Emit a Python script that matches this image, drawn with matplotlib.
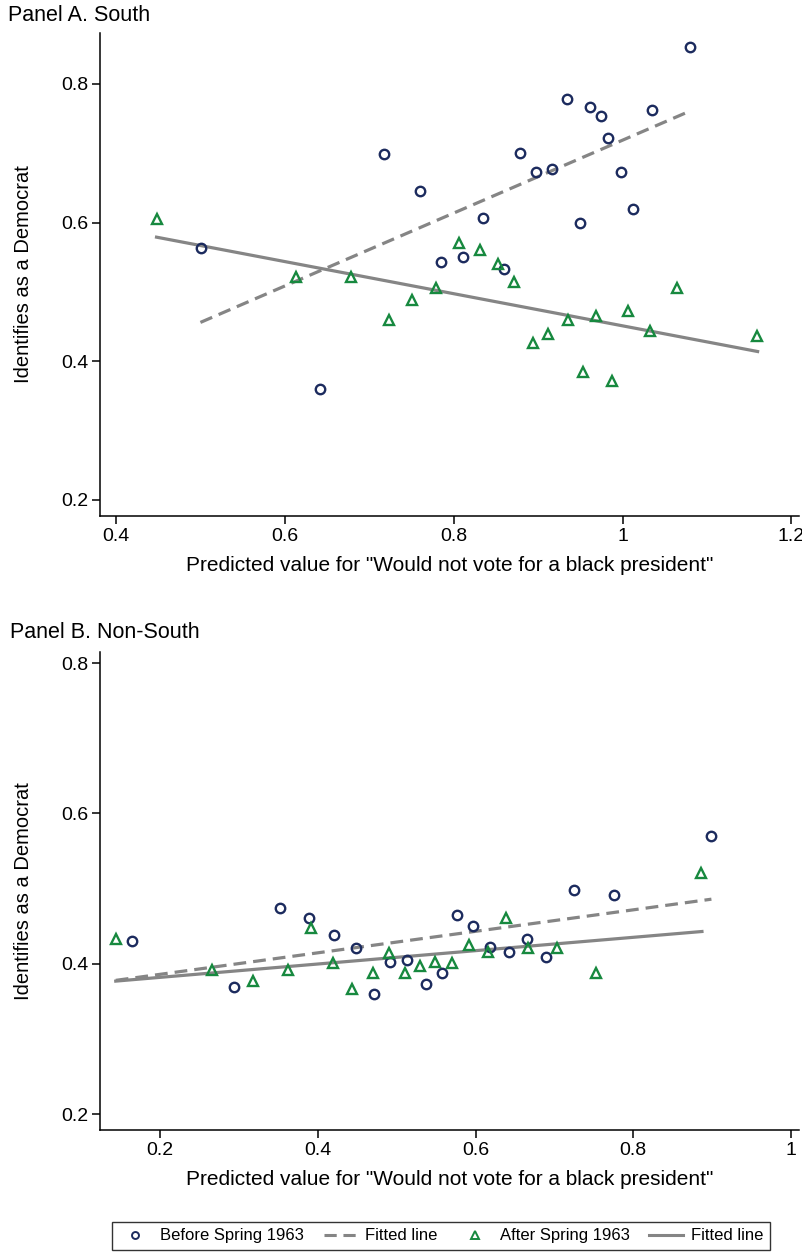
import numpy as np
import matplotlib
matplotlib.use("Agg")
import matplotlib.pyplot as plt
from matplotlib.lines import Line2D

plt.rcParams['font.family'] = ['Liberation Sans', 'DejaVu Sans']

# Panel A (South)
south_before_x = [0.501, 0.642, 0.717, 0.760, 0.785, 0.811, 0.835, 0.859, 0.879, 0.898,
                  0.916, 0.934, 0.950, 0.962, 0.974, 0.983, 0.998, 1.012, 1.035, 1.080]
south_before_y = [0.564, 0.360, 0.699, 0.645, 0.543, 0.550, 0.606, 0.533, 0.700, 0.673,
                  0.677, 0.778, 0.600, 0.767, 0.754, 0.722, 0.673, 0.619, 0.762, 0.853]
south_after_x = [0.448, 0.613, 0.678, 0.723, 0.751, 0.779, 0.806, 0.831, 0.852, 0.872,
                 0.894, 0.912, 0.935, 0.953, 0.969, 0.987, 1.007, 1.032, 1.065, 1.159]
south_after_y = [0.605, 0.522, 0.522, 0.459, 0.489, 0.505, 0.570, 0.561, 0.540, 0.514,
                 0.427, 0.439, 0.459, 0.385, 0.465, 0.372, 0.472, 0.444, 0.505, 0.436]
south_fit_before_x = [0.500, 1.080]
south_fit_before_y = [0.456, 0.761]
south_fit_after_x = [0.448, 1.160]
south_fit_after_y = [0.579, 0.414]

# Panel B (Non-South)
north_before_x = [0.165, 0.294, 0.352, 0.389, 0.420, 0.448, 0.471, 0.492, 0.513, 0.537,
                  0.557, 0.576, 0.597, 0.618, 0.642, 0.665, 0.689, 0.725, 0.776, 0.899]
north_before_y = [0.431, 0.369, 0.474, 0.461, 0.438, 0.421, 0.360, 0.402, 0.405, 0.373,
                  0.388, 0.465, 0.450, 0.422, 0.416, 0.433, 0.409, 0.498, 0.491, 0.570]
north_after_x = [0.144, 0.266, 0.318, 0.362, 0.392, 0.419, 0.444, 0.470, 0.490, 0.511,
                 0.530, 0.549, 0.570, 0.592, 0.616, 0.639, 0.667, 0.703, 0.753, 0.886]
north_after_y = [0.433, 0.392, 0.377, 0.392, 0.447, 0.401, 0.366, 0.388, 0.414, 0.388,
                 0.397, 0.402, 0.401, 0.425, 0.416, 0.461, 0.421, 0.421, 0.388, 0.521]
north_fit_before_x = [0.144, 0.899]
north_fit_before_y = [0.378, 0.486]
north_fit_after_x = [0.144, 0.887]
north_fit_after_y = [0.377, 0.443]

navy = '#1c2b5e'
green = '#17893f'
gray = '#858585'

fig = plt.figure(figsize=(8.03, 12.58), dpi=100)
axA = fig.add_axes([0.1245, 0.590, 0.8705, 0.384])
axB = fig.add_axes([0.1245, 0.1018, 0.8705, 0.380])


def draw_panel(ax, bx, by, ax_, ay, fbx, fby, fax, fay):
    ax.plot(fbx, fby, color=gray, lw=2.3, ls=(0, (4, 2.2)), zorder=2)
    ax.plot(fax, fay, color=gray, lw=2.3, zorder=2)
    ax.plot(bx, by, ls='none', marker='o', ms=6.8, mfc='none', mec=navy, mew=1.7, zorder=3)
    ax.plot(ax_, ay, ls='none', marker='^', ms=7.8, mfc='none', mec=green, mew=1.7, zorder=3)
    ax.spines['top'].set_visible(False)
    ax.spines['right'].set_visible(False)
    ax.spines['left'].set_linewidth(1.1)
    ax.spines['bottom'].set_linewidth(1.1)
    ax.tick_params(direction='out', length=5.5, width=1.1, labelsize=14, pad=3)
    ax.set_xlabel('Predicted value for "Would not vote for a black president"', fontsize=15, labelpad=8)
    ax.set_ylabel('Identifies as a Democrat', fontsize=14.5, labelpad=20)
    ax.set_yticks([0.2, 0.4, 0.6, 0.8])
    ax.set_yticklabels(['0.2', '0.4', '0.6', '0.8'])


draw_panel(axA, south_before_x, south_before_y, south_after_x, south_after_y,
           south_fit_before_x, south_fit_before_y, south_fit_after_x, south_fit_after_y)
axA.set_xlim(0.381, 1.209)
axA.set_ylim(0.177, 0.874)
axA.set_xticks([0.4, 0.6, 0.8, 1.0, 1.2])
axA.set_xticklabels(['0.4', '0.6', '0.8', '1', '1.2'])

draw_panel(axB, north_before_x, north_before_y, north_after_x, north_after_y,
           north_fit_before_x, north_fit_before_y, north_fit_after_x, north_fit_after_y)
axB.set_xlim(0.124, 1.010)
axB.set_ylim(0.179, 0.815)
axB.set_xticks([0.2, 0.4, 0.6, 0.8, 1.0])
axB.set_xticklabels(['0.2', '0.4', '0.6', '0.8', '1'])

fig.text(0.010, 0.988, 'Panel A. South', fontsize=15.5, va='center', ha='left')
fig.text(0.012, 0.497, 'Panel B. Non-South', fontsize=15.5, va='center', ha='left')

handles = [
    Line2D([], [], ls='none', marker='o', ms=5, mfc='none', mec=navy, mew=1.4),
    Line2D([], [], color=gray, lw=2.2, ls=(0, (4, 2.2))),
    Line2D([], [], ls='none', marker='^', ms=6, mfc='none', mec=green, mew=1.4),
    Line2D([], [], color=gray, lw=2.2),
]
labels = ['Before Spring 1963', 'Fitted line', 'After Spring 1963', 'Fitted line']
leg = fig.legend(handles, labels, loc='center', bbox_to_anchor=(0.549, 0.0175), ncol=4,
                 fontsize=12, frameon=True, fancybox=False, edgecolor='black',
                 handlelength=2.0, columnspacing=1.2, handletextpad=0.5, borderpad=0.4)
leg.get_frame().set_linewidth(1.0)

fig.savefig('out.png', dpi=100)
